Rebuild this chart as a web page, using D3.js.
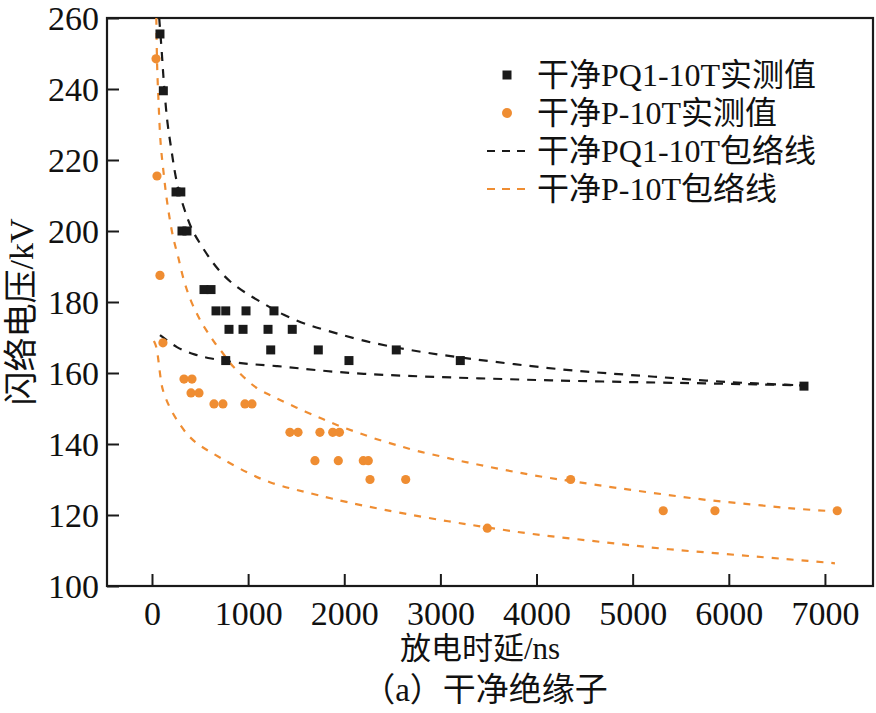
<!DOCTYPE html>
<html><head><meta charset="utf-8">
<script src="https://cdn.jsdelivr.net/npm/d3@7"></script>
<style>
html,body{margin:0;padding:0;background:#fff;}
svg text{font-family:"Liberation Serif","Noto Sans CJK SC",serif;fill:#111;}
</style></head>
<body><svg id="c" width="876" height="713"></svg>
<script>
// ---- data ----
const xTicks = [0,1000,2000,3000,4000,5000,6000,7000];
const yTicks = [100,120,140,160,180,200,220,240,260];
const xLabel = "放电时延/ns";
const yLabel = "闪络电压/kV";
const caption = "（a）干净绝缘子";
const seriesNames = ["干净PQ1-10T实测值","干净P-10T实测值","干净PQ1-10T包络线","干净P-10T包络线"];

const pqX = [83,118,250,300,312,364,541,614,666,767,978,1269,801,947,1207,1459,1235,767,1730,2049,2541,3207,6782];
const pqY = [255.5,239.5,211,211,200,200,183.5,183.5,177.5,177.5,177.5,177.5,172.3,172.3,172.3,172.3,166.5,163.5,166.5,163.5,166.5,163.5,156.3];

const pX = [42,52,83,114,333,416,406,489,645,738,967,1040,1435,1519,1747,1880,1950,1695,1938,2198,2250,2268,2639,4355,5318,5856,7128,3488];
const pY = [248.5,215.5,187.5,168.5,158.3,158.3,154.4,154.4,151.3,151.3,151.3,151.3,143.3,143.3,143.3,143.3,143.3,135.3,135.3,135.3,135.3,130,130,130,121.2,121.2,121.2,116.3];

const pqUpX = [75,101,118,135,159,198,232,274,343,413,499,586,690,811,950,1158,1366,1609,1817,2164,2580,2996,3342,3758,4244,4729,5214,5770,6290,6782];
const pqUpY = [260,251,243.5,237.8,230.3,223.7,217.2,211.5,205.5,200.3,196.5,192.8,189,185.7,182.9,179.6,176.3,173.6,172.0,169.2,166.9,165.1,163.9,162.5,161.0,159.9,159.0,157.8,157.0,156.5];
const pqLoX = [83,257,447,603,846,1054,1297,1539,1782,2198,2649,3134,3654,4140,4694,5250,5735,6290,6782];
const pqLoY = [170.7,167,165.1,164.1,163,162.4,162,161.3,160.6,159.7,159.2,158.7,158.3,157.9,157.6,157.3,157.1,156.8,156.5];

const pUpX = [45,49,55,66,76,90,118,146,180,222,274,309,361,413,465,517,586,655,742,811,881,985,1089,1227,1331,1609,1782,1956,2146,2337,2545,2753,2996,3204,3412,3620,3828,4036,4400,4833,5301,5752,6238,6688,7128];
const pUpY = [260,251.9,244.4,237.8,231.3,223.7,217.2,210.1,204.0,197.5,192.8,188.2,183.4,179.7,176.8,174.0,171.2,168.3,165.5,162.7,160.8,158.0,155.6,153.8,152.4,148.9,147.0,144.9,143.2,141.3,139.7,138.0,136.6,135.2,134.1,132.9,131.9,130.8,129.4,127.6,125.9,124.2,123.0,121.7,121.0];
const pLoX = [20,49,66,83,101,135,205,291,378,482,603,725,881,1054,1227,1435,1609,1852,2200,2600,3100,3488,3949,4417,4902,5370,5891,6394,6862,7104];
const pLoY = [169,167.4,163.7,159.9,156.1,153.3,149.0,145.4,142.2,139.8,137.8,135.9,133.5,131.1,129.1,127.5,126.4,124.7,122.6,120.5,118.1,116.5,114.6,113.2,111.7,110.3,109.2,108.0,107.0,106.4];

// ---- chart ----
const BLACK = "#1a1a1a", ORANGE = "#ef8d32";
const SERIF = '"Liberation Serif", "Noto Sans CJK SC", serif';
const L = 107, R = 873, T = 18, B = 586;
const svg = d3.select("#c");
const x = d3.scaleLinear().domain([-468, 7500]).range([L, R]);
const y = d3.scaleLinear().domain([100, 260]).range([B, T]);

svg.append("defs").append("clipPath").attr("id","clip")
  .append("rect").attr("x",L).attr("y",T).attr("width",R-L).attr("height",B-T);

// frame
svg.append("rect").attr("x",L).attr("y",T).attr("width",R-L).attr("height",B-T)
  .attr("fill","none").attr("stroke",BLACK).attr("stroke-width",2.2);

// axes (ticks inward)
const xAxis = svg.append("g").attr("transform",`translate(0,${B})`)
  .call(d3.axisBottom(x).tickValues(xTicks).tickSizeInner(-12).tickSizeOuter(0).tickPadding(16).tickFormat(d3.format("d")));
const yAxis = svg.append("g").attr("transform",`translate(${L},0)`)
  .call(d3.axisLeft(y).tickValues(yTicks).tickSizeInner(-12).tickSizeOuter(0).tickPadding(8).tickFormat(d3.format("d")));
[xAxis,yAxis].forEach(a=>{
  a.attr("font-family", SERIF).attr("font-size", 34);
  a.select(".domain").remove();
  a.selectAll(".tick line").attr("stroke",BLACK).attr("stroke-width",2);
  a.selectAll(".tick text").attr("font-size",34).attr("fill","#111")
    .attr("font-family", SERIF).style("font-family", SERIF);
});
xAxis.selectAll(".tick text").attr("dy","0.68em");
yAxis.selectAll(".tick text").attr("dy","0.34em");

// axis titles
svg.append("text").attr("x",(L+R)/2-10).attr("y",659).attr("text-anchor","middle")
  .attr("font-size",31).text(xLabel);
svg.append("text").attr("transform",`translate(33,${(T+B)/2+10}) rotate(-90)`)
  .attr("text-anchor","middle").attr("font-size",34).text(yLabel);
svg.append("text").attr("x",(L+R)/2-5).attr("y",701).attr("text-anchor","middle")
  .attr("font-size",33).text(caption);

// lines
const plot = svg.append("g").attr("clip-path","url(#clip)");
const line = d3.line().x(d=>x(d[0])).y(d=>y(d[1])).curve(d3.curveBasis);
const zip = (a,b)=>a.map((v,i)=>[v,b[i]]);
const curves = [
  {d:zip(pqUpX,pqUpY), c:BLACK, dash:"9,8"},
  {d:zip(pqLoX,pqLoY), c:BLACK, dash:"9,8"},
  {d:zip(pUpX,pUpY), c:ORANGE, dash:"7,8"},
  {d:zip(pLoX,pLoY), c:ORANGE, dash:"7,8"}
];
curves.forEach(cv=>{
  plot.append("path").attr("d",line(cv.d)).attr("fill","none")
    .attr("stroke",cv.c).attr("stroke-width",2.2).attr("stroke-dasharray",cv.dash);
});

// points
const S = 9;
plot.selectAll("rect.pq").data(zip(pqX,pqY)).join("rect").attr("class","pq")
  .attr("x",d=>x(d[0])-S/2).attr("y",d=>y(d[1])-S/2).attr("width",S).attr("height",S).attr("fill",BLACK);
plot.selectAll("circle.p").data(zip(pX,pY)).join("circle").attr("class","p")
  .attr("cx",d=>x(d[0])).attr("cy",d=>y(d[1])).attr("r",4.6).attr("fill",ORANGE);

// legend
const lg = svg.append("g");
const rows = [75,113,151,189];
lg.append("rect").attr("x",507-S/2).attr("y",rows[0]-S/2).attr("width",S).attr("height",S).attr("fill",BLACK);
lg.append("circle").attr("cx",507).attr("cy",rows[1]).attr("r",5).attr("fill",ORANGE);
lg.append("line").attr("x1",487).attr("x2",530).attr("y1",rows[2]).attr("y2",rows[2])
  .attr("stroke",BLACK).attr("stroke-width",2.2).attr("stroke-dasharray","8,7");
lg.append("line").attr("x1",487).attr("x2",530).attr("y1",rows[3]).attr("y2",rows[3])
  .attr("stroke",ORANGE).attr("stroke-width",2.2).attr("stroke-dasharray","8,7");
seriesNames.forEach((n,i)=>{
  lg.append("text").attr("x",537).attr("y",rows[i]).attr("dy","0.35em")
    .attr("font-size",32).text(n);
});
</script></body></html>
